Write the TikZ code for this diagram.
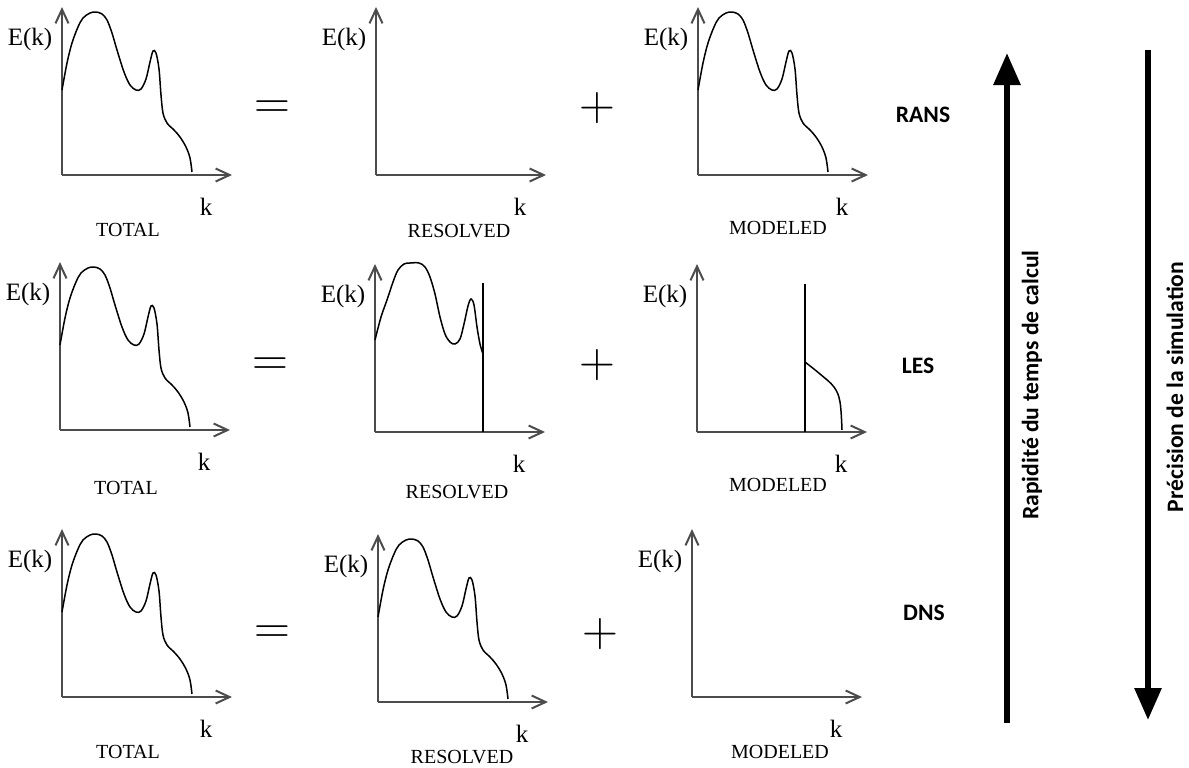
\documentclass[tikz,border=0pt]{standalone}
\usepackage{fontspec}
\setmainfont{Liberation Serif}
\newfontfamily\calfont{Carlito}
\usetikzlibrary{arrows.meta}
\tikzset{
  axis/.style={draw=black!70, line width=1pt, -{Straight Barb[length=7pt,width=6.5pt]}},
  curve/.style={line width=0.75pt},
  cutoff/.style={line width=0.75pt},
  axlabel/.style={font=\fontsize{12.5}{14}\selectfont, inner sep=0pt},
  caption/.style={font=\fontsize{10}{12}\selectfont, inner sep=0pt},
  opsign/.style={font=\fontsize{28}{28}\selectfont, inner sep=0pt},
  method/.style={font=\calfont\bfseries\fontsize{11.8}{14}\selectfont, inner sep=0pt},
  sidetext/.style={method, rotate=90},
  bigarrow/.style={line width=3pt, -{Triangle[length=16pt,width=13pt]}},
  pics/axes/.style={code={
    \draw[axis] (0,0) -- (0,-168);
    \draw[axis] (0,0) -- (170,0);
    \node[axlabel] (-e) at (-32,-136) {E(k)};
    \node[axlabel] (-k) at (144,32) {k};
  }},
  pics/spectrum/.style={code={
    \draw[curve] plot[smooth, tension=0.55] coordinates {(0,-85) (5,-112) (10,-132) (16,-148) (21,-157) (28,-162) (34,-163) (40,-161) (45,-155) (50,-142) (55,-125) (62,-103) (68,-90) (74,-85) (79,-86) (84,-96) (88,-113) (91,-124) (94,-122) (97,-106) (99,-80) (101,-62) (105,-52) (112,-45) (118,-38) (124,-28) (128,-17) (130,-3)};
  }},
}

\begin{document}
\begin{tikzpicture}[x=0.5pt, y=-0.5pt]
  \useasboundingbox (0,0) rectangle (1189,767);

  % RANS
  \pic (tot1) at (62,175) {axes};
  \pic at (62,175) {spectrum};
  \node[caption] (tot1-cap) at (128,230) {TOTAL};
  \node[opsign] (eq1) at (272,110) {$=$};
  \pic (res1) at (376,175) {axes};
  \node[caption] (res1-cap) at (459,231) {RESOLVED};
  \node[opsign] (plus1) at (597,108) {$+$};
  \pic (mod1) at (698,175) {axes};
  \pic at (698,175) {spectrum};
  \node[caption] (mod1-cap) at (778,228) {MODELED};
  \node[method] (rans) at (923,115) {RANS};

  % LES
  \pic (tot2) at (60,430) {axes};
  \pic at (60,430) {spectrum};
  \node[caption] (tot2-cap) at (126,488) {TOTAL};
  \node[opsign] (eq2) at (270,367) {$=$};
  \pic (res2) at (375,432) {axes};
  \begin{scope}[shift={(375,432)}]
    \draw[curve] plot[smooth, tension=0.55] coordinates {(0,-92) (6,-115) (12,-132) (18,-150) (23,-162) (29,-168) (35,-169) (44,-169) (50,-165) (55,-155) (60,-138) (65,-115) (70,-98) (75,-90) (80,-88) (85,-93) (89,-108) (93,-126) (96,-133) (99,-127) (102,-105) (105,-88) (108,-78)};
    \draw[cutoff] (108,0) -- (108,-149);
  \end{scope}
  \node[caption] (res2-cap) at (457,492) {RESOLVED};
  \node[opsign] (plus2) at (597,365) {$+$};
  \pic (mod2) at (697,432) {axes};
  \begin{scope}[shift={(697,432)}]
    \draw[cutoff] (108,0) -- (108,-148);
    \draw[curve] plot[smooth, tension=0.6] coordinates {(108,-70) (123,-58) (137,-45) (143,-30) (145,-2)};
  \end{scope}
  \node[caption] (mod2-cap) at (778,485) {MODELED};
  \node[method] (les) at (918,366) {LES};

  % DNS
  \pic (tot3) at (62,697) {axes};
  \pic at (62,697) {spectrum};
  \node[caption] (tot3-cap) at (128,752) {TOTAL};
  \node[opsign] (eq3) at (272,635) {$=$};
  \pic (res3) at (378,702) {axes};
  \pic at (378,702) {spectrum};
  \node[caption] (res3-cap) at (462,757) {RESOLVED};
  \node[opsign] (plus3) at (600,634) {$+$};
  \pic (mod3) at (692,697) {axes};
  \node[caption] (mod3-cap) at (780,752) {MODELED};
  \node[method] (dns) at (924,613) {DNS};

  % cost / accuracy arrows
  \coordinate (fast-lo) at (1007,723);
  \coordinate (fast-hi) at (1007,53);
  \coordinate (prec-hi) at (1148,50);
  \coordinate (prec-lo) at (1148,720);
  \draw[bigarrow] (fast-lo) -- (fast-hi);
  \draw[bigarrow] (prec-hi) -- (prec-lo);
  \node[sidetext] (fast) at (1032,385) {Rapidité du temps de calcul};
  \node[sidetext] (prec) at (1175,387) {Précision de la simulation};
\end{tikzpicture}
\end{document}
